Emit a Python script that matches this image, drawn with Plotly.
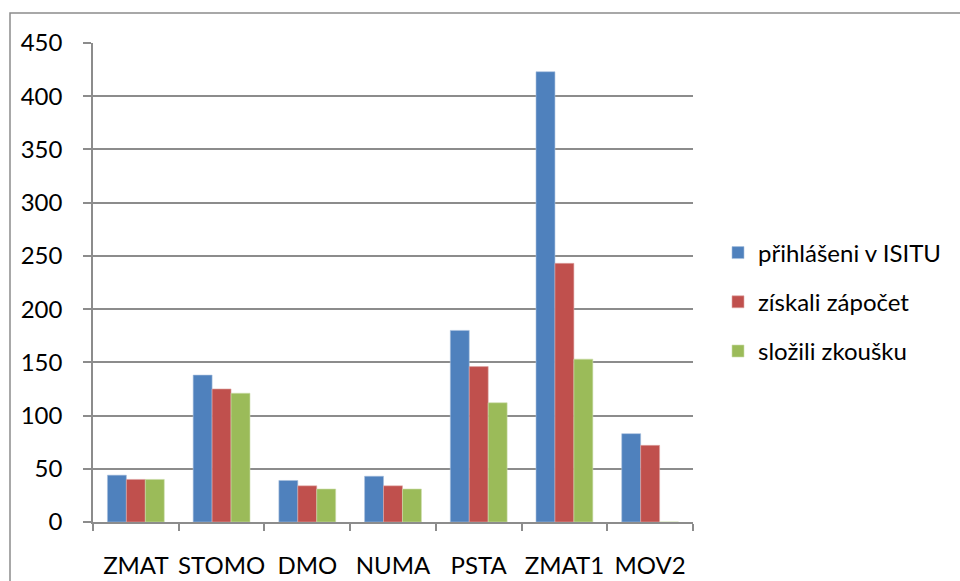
import plotly.graph_objects as go

categories = ["ZMAT", "STOMO", "DMO", "NUMA", "PSTA", "ZMAT1", "MOV2"]
prihlaseni = [44, 138, 39, 43, 180, 423, 83]
zapocet = [40, 125, 34, 34, 146, 243, 72]
zkouska = [40, 121, 31, 31, 112, 153, 0]
series_names = ["přihlášeni v ISITU", "získali zápočet", "složili zkoušku"]
y_ticks = [0, 50, 100, 150, 200, 250, 300, 350, 400, 450]

colors = ["#4F81BD", "#C0504D", "#9BBB59"]
edge = ["#A7C0DE", "#DFA8A6", "#CDDDAC"]
FONT = "Lato, Liberation Sans, Arial, sans-serif"
GRID = "#8C8C8C"

L, R, T, B = 93, 267, 43, 59
W, H = 960, 581
pw, ph = W - L - R, H - T - B

def px_to_paper_x(px):
    return (px - L) / pw

def px_to_paper_y(py):
    return (H - B - py) / ph

fig = go.Figure()
for i, (name, vals) in enumerate(zip(series_names, [prihlaseni, zapocet, zkouska])):
    fig.add_trace(go.Bar(
        x=categories, y=vals, name=name,
        marker=dict(color=colors[i], line=dict(color=edge[i], width=0.6)),
        legendgroup=f"g{i}",
    ))

fig.update_layout(
    width=W, height=H,
    margin=dict(l=L, r=R, t=T, b=B, autoexpand=False),
    paper_bgcolor="white", plot_bgcolor="white",
    barmode="group", bargap=0.337, bargroupgap=0,
    font=dict(family=FONT, size=24, color="black"),
    showlegend=True,
    legend=dict(
        x=px_to_paper_x(718), xanchor="left",
        y=px_to_paper_y(302), yanchor="middle",
        font=dict(family=FONT, size=24, color="black"),
        tracegroupgap=15, bgcolor="rgba(0,0,0,0)",
    ),
    xaxis=dict(
        type="category", tickson="boundaries", ticks="outside", ticklen=7,
        tickcolor=GRID, tickwidth=1.5, tickangle=0, automargin=False,
        showline=True, linecolor=GRID, linewidth=1.5,
        showgrid=False, ticklabelstandoff=21,
        tickfont=dict(family=FONT, size=24),
    ),
    yaxis=dict(
        range=[0, 450], tickvals=y_ticks, ticks="outside", ticklen=8,
        tickcolor=GRID, tickwidth=1.5, automargin=False,
        showline=True, linecolor=GRID, linewidth=1.5,
        showgrid=True, gridcolor=GRID, gridwidth=1.5,
        zeroline=False, ticklabelstandoff=16,
        tickfont=dict(family=FONT, size=24),
    ),
    shapes=[dict(
        type="rect", xref="paper", yref="paper",
        x0=px_to_paper_x(10), x1=px_to_paper_x(975),
        y0=px_to_paper_y(600), y1=px_to_paper_y(13),
        line=dict(color="#8C8C8C", width=1.5), layer="below",
    )],
)

fig.write_html(
    "out.html",
    config={"displayModeBar": False},
    post_script="document.body.style.margin='0';document.body.style.overflow='hidden';",
)
